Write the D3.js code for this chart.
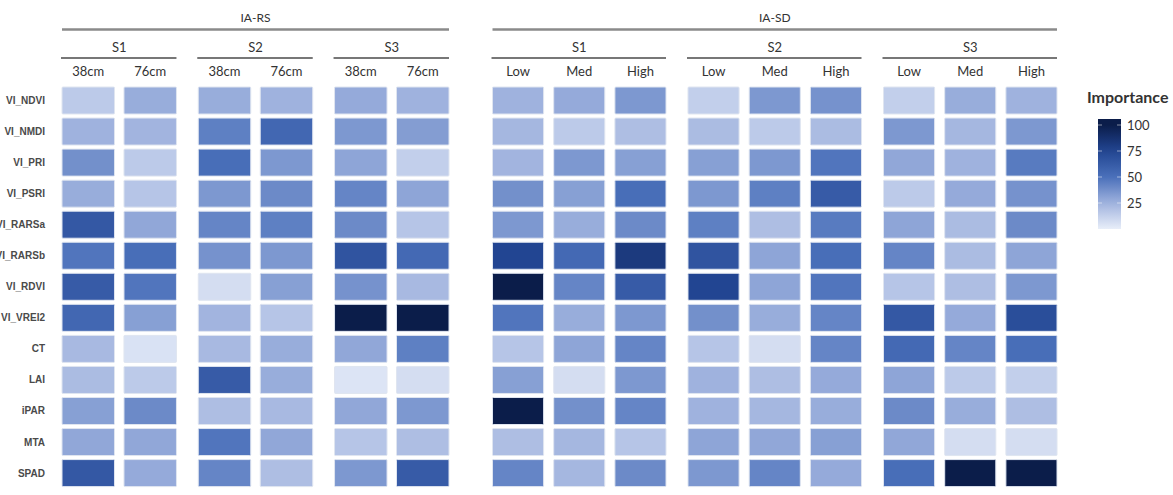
<!DOCTYPE html>
<html lang="en">
<head>
<meta charset="UTF-8">
<title>Importance heatmap</title>
<script src="https://d3js.org/d3.v7.min.js"></script>
<style>
  body { margin: 0; background: #fff; }
  svg { display: block; }
  .hdr { font-family: Lato, "Open Sans", sans-serif; fill: #333; }
  .row-label { font-family: "Liberation Sans", Arial, sans-serif; font-weight: bold; font-size: 10px; fill: #4a4a4a; }
</style>
</head>
<body>
<svg id="chart"></svg>
<script>
const width = 1173, height = 495;

// rows (predictors)
const rows = ["VI_NDVI", "VI_NMDI", "VI_PRI", "VI_PSRI", "VI_RARSa", "VI_RARSb", "VI_RDVI",
              "VI_VREI2", "CT", "LAI", "iPAR", "MTA", "SPAD"];
const stages = ["S1", "S2", "S3"];
const rsLevels = ["38cm", "76cm"];
const sdLevels = ["Low", "Med", "High"];

// IA-RS values, per row: S1 38cm, S1 76cm, S2 38cm, S2 76cm, S3 38cm, S3 76cm
const rsValues = [
  [15, 27, 27, 25, 28, 25],
  [25, 24, 44, 55, 35, 33],
  [38, 15, 51, 35, 30, 13],
  [27, 17, 35, 40, 42, 30],
  [64, 29, 42, 44, 40, 17],
  [48, 51, 37, 35, 66, 54],
  [62, 48, 7, 32, 37, 22],
  [55, 32, 24, 17, 100, 100],
  [22, 5, 22, 27, 29, 44],
  [21, 15, 62, 27, 4, 7],
  [32, 40, 20, 22, 29, 35],
  [29, 29, 48, 29, 17, 20],
  [64, 28, 42, 20, 35, 62]
];

// IA-SD values, per row: S1 Low/Med/High, S2 Low/Med/High, S3 Low/Med/High
const sdValues = [
  [25, 28, 35, 13, 35, 37, 13, 27, 25],
  [23, 15, 20, 21, 15, 21, 35, 23, 35],
  [24, 35, 32, 32, 35, 48, 29, 25, 46],
  [38, 32, 51, 35, 44, 62, 15, 28, 37],
  [35, 27, 40, 44, 20, 46, 30, 21, 40],
  [75, 54, 82, 66, 30, 51, 42, 21, 30],
  [100, 42, 62, 75, 30, 48, 17, 20, 35],
  [48, 27, 35, 38, 27, 42, 64, 28, 70],
  [17, 30, 42, 17, 7, 42, 54, 42, 51],
  [32, 7, 35, 25, 20, 28, 30, 15, 13],
  [100, 38, 42, 25, 23, 27, 40, 27, 20],
  [20, 23, 17, 30, 29, 32, 29, 7, 7],
  [42, 23, 40, 35, 42, 28, 51, 100, 100]
];

const legendTicks = [25, 50, 75, 100];

const color = d3.scaleLinear()
  .domain([0, 25, 50, 75, 100])
  .range(["#e8eef9", "#9fb2de", "#4a70ba", "#224592", "#0b1d4a"])
  .interpolate(d3.interpolateRgb)
  .clamp(true);

const svg = d3.select("#chart").attr("width", width).attr("height", height);

const y = d3.scaleBand().domain(rows).range([87, 486.6]).paddingInner(0.13);

const sections = [
  { name: "IA-RS", levels: rsLevels, values: rsValues, range: [62, 449], outerPad: 0.16, innerPad: 0.153 },
  { name: "IA-SD", levels: sdLevels, values: sdValues, range: [492.5, 1057], outerPad: 0.1125, innerPad: 0.165 }
];

sections.forEach(sec => {
  const gx = d3.scaleBand().domain(stages).range(sec.range).paddingInner(sec.outerPad);
  const ix = d3.scaleBand().domain(sec.levels).range([0, gx.bandwidth()]).paddingInner(sec.innerPad);
  const g = svg.append("g");

  // section header
  g.append("line")
    .attr("x1", sec.range[0]).attr("x2", sec.range[1])
    .attr("y1", 29.5).attr("y2", 29.5)
    .attr("stroke", "#8a8a8a").attr("stroke-width", 2.5);
  g.append("text").attr("class", "hdr")
    .attr("x", (sec.range[0] + sec.range[1]) / 2).attr("y", 22)
    .attr("text-anchor", "middle").attr("font-size", 12)
    .text(sec.name);

  stages.forEach((s, si) => {
    const x0 = gx(s);
    g.append("line")
      .attr("x1", x0 - 1).attr("x2", x0 + gx.bandwidth())
      .attr("y1", 58).attr("y2", 58)
      .attr("stroke", "#4a4a4a").attr("stroke-width", 1.6);
    g.append("text").attr("class", "hdr")
      .attr("x", x0 + gx.bandwidth() / 2).attr("y", 52)
      .attr("text-anchor", "middle").attr("font-size", 13)
      .text(s);

    g.selectAll(null).data(sec.levels).join("text")
      .attr("class", "hdr")
      .attr("x", d => x0 + ix(d) + ix.bandwidth() / 2)
      .attr("y", 76)
      .attr("text-anchor", "middle").attr("font-size", 13)
      .text(d => d);

    const cells = [];
    rows.forEach((r, ri) => {
      sec.levels.forEach((lv, li) => {
        cells.push({ row: r, level: lv, value: sec.values[ri][si * sec.levels.length + li] });
      });
    });

    g.selectAll(null).data(cells).join("rect")
      .attr("x", d => x0 + ix(d.level))
      .attr("y", d => y(d.row))
      .attr("width", ix.bandwidth())
      .attr("height", y.bandwidth())
      .attr("rx", 1)
      .attr("fill", d => color(d.value))
      .attr("stroke", "#dfe5f0")
      .attr("stroke-width", 1);
  });
});

// row labels (right-aligned; the longest run past the left edge, as in the original)
svg.append("g").selectAll("text").data(rows).join("text")
  .attr("class", "row-label")
  .attr("x", 45)
  .attr("y", d => y(d) + y.bandwidth() / 2)
  .attr("dy", "0.35em")
  .attr("text-anchor", "end")
  .text(d => d);

// legend
const leg = svg.append("g");
leg.append("text").attr("class", "hdr")
  .attr("x", 1087).attr("y", 103)
  .attr("font-size", 16).attr("font-weight", "bold").attr("fill", "#2a2a2a")
  .text("Importance");

const ly = d3.scaleLinear().domain([0, 100]).range([229, 125]);
const grad = svg.append("defs").append("linearGradient")
  .attr("id", "lg").attr("x1", 0).attr("x2", 0).attr("y1", 1).attr("y2", 0);
grad.selectAll("stop").data(d3.range(0, 101, 10)).join("stop")
  .attr("offset", d => (ly(0) - ly(d)) / (ly(0) - 119))
  .attr("stop-color", d => color(d));
grad.append("stop").attr("offset", 1).attr("stop-color", color(100));

leg.append("rect")
  .attr("x", 1098).attr("y", 119)
  .attr("width", 23).attr("height", ly(0) - 119)
  .attr("fill", "url(#lg)");

leg.selectAll(".tk").data(legendTicks).join("g").attr("class", "tk")
  .each(function (d) {
    const t = d3.select(this);
    t.append("line").attr("x1", 1098).attr("x2", 1102).attr("y1", ly(d)).attr("y2", ly(d))
      .attr("stroke", "#fff").attr("stroke-opacity", 0.5);
    t.append("line").attr("x1", 1117).attr("x2", 1121).attr("y1", ly(d)).attr("y2", ly(d))
      .attr("stroke", "#fff").attr("stroke-opacity", 0.5);
    t.append("text").attr("class", "hdr")
      .attr("x", 1127).attr("y", ly(d)).attr("dy", "0.35em")
      .attr("font-size", 13).attr("fill", "#444")
      .text(d);
  });
</script>
</body>
</html>
